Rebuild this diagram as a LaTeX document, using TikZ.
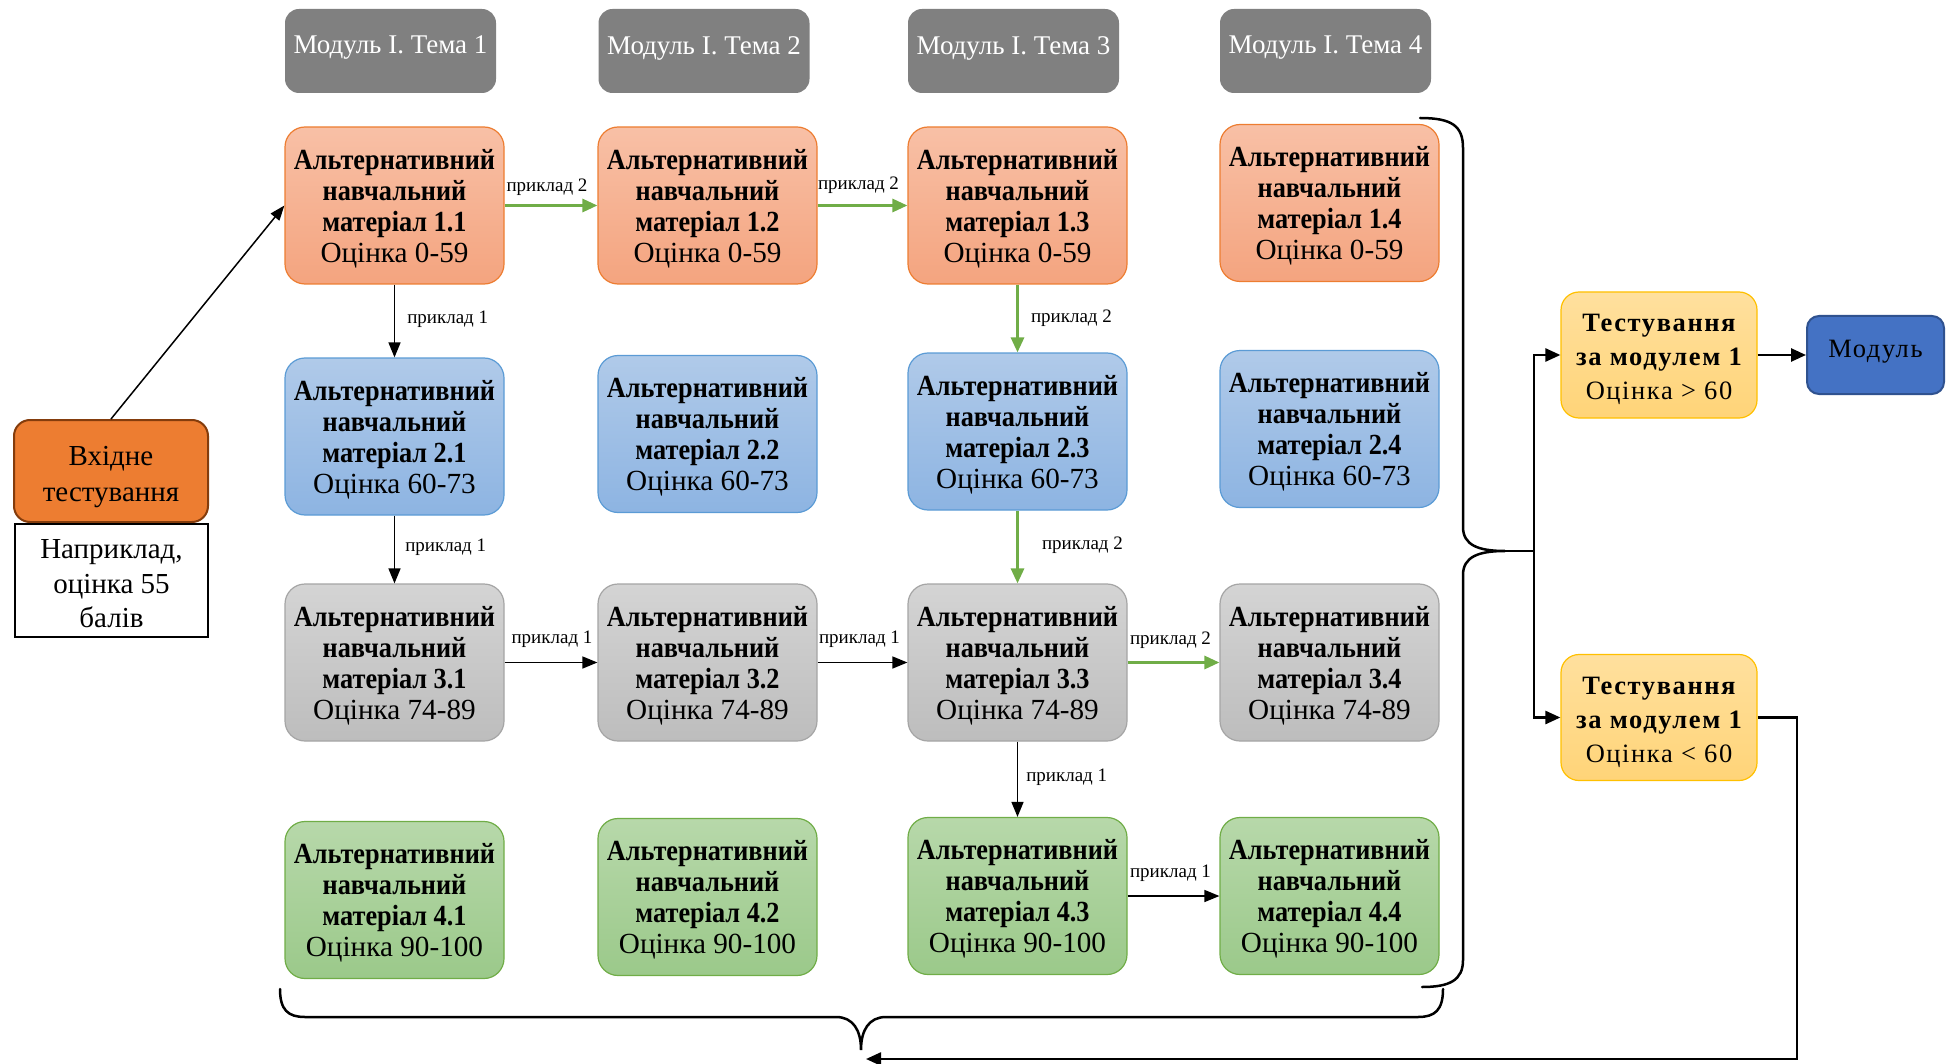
\documentclass[tikz,border=0pt]{standalone}
\usepackage{fontspec}
\setmainfont{Liberation Serif}
\newfontfamily\spfont[LetterSpace=6]{Liberation Serif}
\newfontfamily\condb[FakeStretch=0.9]{Liberation Serif}
\usetikzlibrary{arrows.meta}
\definecolor{hdrgray}{HTML}{808080}
\definecolor{ortop}{HTML}{F8C0A6}
\definecolor{orbot}{HTML}{F4A47F}
\definecolor{orbd}{HTML}{ED7D31}
\definecolor{bltop}{HTML}{B0CAE9}
\definecolor{blbot}{HTML}{8DB4E2}
\definecolor{blbd}{HTML}{5B9BD5}
\definecolor{grtop}{HTML}{D4D4D4}
\definecolor{grbot}{HTML}{BDBDBD}
\definecolor{grbd}{HTML}{A5A5A5}
\definecolor{gntop}{HTML}{B7D8AA}
\definecolor{gnbot}{HTML}{9BC98A}
\definecolor{gnbd}{HTML}{70AD47}
\definecolor{ytop}{HTML}{FFE09E}
\definecolor{ybot}{HTML}{FFD478}
\definecolor{ybd}{HTML}{FFC000}
\definecolor{vhfill}{HTML}{ED7D31}
\definecolor{vhbd}{HTML}{843C0C}
\definecolor{modfill}{HTML}{4472C4}
\definecolor{modbd}{HTML}{2F528F}
\definecolor{arrgreen}{HTML}{70AD47}
\newcommand\stk[2]{\raisebox{#1}[\height][\depth]{\begin{tabular}{@{}c@{}}#2\end{tabular}}}
\newcommand\shft[2]{\raisebox{#1}[\height][\depth]{#2}}
\newcommand\mattxt[2]{\stk{-4pt}{{\condb\bfseries Альтернативний}\\{\condb\bfseries навчальний}\\{\condb\bfseries матеріал #1}\\Оцінка #2}}
\newcommand\testtxt[1]{\stk{-4pt}{{\spfont\bfseries Тестування}\\{\spfont\bfseries за модулем 1}\\{\spfont Оцінка #1}}}
\begin{document}
\begin{tikzpicture}[x=1pt,y=-1pt,
  hdr/.style={fill=hdrgray, rounded corners=14pt, minimum width=211pt, minimum height=84pt, inner sep=0pt, text=white, font=\fontsize{27}{30}\selectfont},
  mat/.style={rounded corners=20pt, minimum width=219pt, minimum height=157pt, inner sep=0pt, align=center, font=\fontsize{29.2}{31}\selectfont, line width=1.2pt},
  omat/.style={mat, draw=orbd, top color=ortop, bottom color=orbot},
  bmat/.style={mat, draw=blbd, top color=bltop, bottom color=blbot},
  gmat/.style={mat, draw=grbd, top color=grtop, bottom color=grbot},
  nmat/.style={mat, draw=gnbd, top color=gntop, bottom color=gnbot},
  testbox/.style={rounded corners=18pt, draw=ybd, top color=ytop, bottom color=ybot, minimum width=196pt, minimum height=126pt, inner sep=0pt, align=center, font=\fontsize{26.5}{34}\selectfont, line width=1.2pt},
  modbox/.style={rounded corners=12pt, draw=modbd, fill=modfill, line width=2pt, minimum width=137pt, minimum height=78pt, inner sep=0pt, font=\spfont\fontsize{26.5}{30}\selectfont},
  lbl/.style={font=\fontsize{19}{21}\selectfont, inner sep=2pt, text=black},
  blk/.style={line width=1.5pt, -{Triangle[length=15pt,width=12pt]}},
  grn/.style={line width=3pt, draw=arrgreen, -{Triangle[length=15pt,width=13pt]}},
  thk/.style={line width=2.5pt},
  thkarr/.style={line width=2.5pt, -{Triangle[length=15pt,width=13pt]}},
  brace/.style={line width=2.5pt, line cap=round}
]
\useasboundingbox (0,0) rectangle (1950,1064);

% headers
\node[hdr] (h1) at (390.5,51) {\shft{3pt}{Модуль I. Тема 1}};
\node[hdr] (h2) at (704,51) {\shft{3pt}{Модуль I. Тема 2}};
\node[hdr] (h3) at (1013.5,51) {\shft{3pt}{Модуль I. Тема 3}};
\node[hdr] (h4) at (1325.5,51) {\shft{3pt}{Модуль I. Тема 4}};

% materials
\node[omat] (m11) at (394.5,205.5) {\mattxt{1.1}{0-59}};
\node[omat] (m12) at (707.5,205.5) {\mattxt{1.2}{0-59}};
\node[omat] (m13) at (1017.5,205.5) {\mattxt{1.3}{0-59}};
\node[omat] (m14) at (1329.5,203) {\mattxt{1.4}{0-59}};

\node[bmat] (m21) at (394.5,436.5) {\mattxt{2.1}{60-73}};
\node[bmat] (m22) at (707.5,434) {\mattxt{2.2}{60-73}};
\node[bmat] (m23) at (1017.5,431.5) {\mattxt{2.3}{60-73}};
\node[bmat] (m24) at (1329.5,429) {\mattxt{2.4}{60-73}};

\node[gmat] (m31) at (394.5,662.5) {\mattxt{3.1}{74-89}};
\node[gmat] (m32) at (707.5,662.5) {\mattxt{3.2}{74-89}};
\node[gmat] (m33) at (1017.5,662.5) {\mattxt{3.3}{74-89}};
\node[gmat] (m34) at (1329.5,662.5) {\mattxt{3.4}{74-89}};

\node[nmat] (m41) at (394.5,900) {\mattxt{4.1}{90-100}};
\node[nmat] (m42) at (707.5,897) {\mattxt{4.2}{90-100}};
\node[nmat] (m43) at (1017.5,896) {\mattxt{4.3}{90-100}};
\node[nmat] (m44) at (1329.5,896) {\mattxt{4.4}{90-100}};

% left boxes
\node[draw=vhbd, fill=vhfill, line width=2pt, rounded corners=16pt, minimum width=194pt, minimum height=102pt, inner sep=0pt, font=\fontsize{29}{36}\selectfont] (vh) at (111,471) {\stk{-5pt}{Вхідне\\тестування}};
\node[draw=black, fill=white, line width=2pt, minimum width=193pt, minimum height=113pt, inner sep=0pt, font=\fontsize{29}{34.5}\selectfont] (ex) at (111.5,580.5) {\stk{-6pt}{Наприклад,\\оцінка 55\\балів}};

% right boxes
\node[testbox] (t1) at (1659,355) {\testtxt{> 60}};
\node[testbox] (t2) at (1659,717.5) {\testtxt{< 60}};
\node[modbox] (md) at (1875.5,355) {\shft{3pt}{Модуль}};

% connectors
\draw[line width=1.5pt, -{Triangle[length=15pt,width=11pt]}] (vh.north) -- (m11.west);

\draw[grn] (m11) -- (m12) node[lbl, above, midway, xshift=-4pt, yshift=6pt] {приклад 2};
\draw[grn] (m12) -- (m13) node[lbl, above, midway, xshift=-4pt, yshift=8pt] {приклад 2};
\draw[blk] (m11) -- (m21) node[lbl, right, pos=0.48, xshift=10pt] {приклад 1};
\draw[grn] (m13) -- (m23) node[lbl, right, pos=0.5, xshift=10pt] {приклад 2};
\draw[blk] (m21) -- (m31) node[lbl, right, pos=0.47, xshift=8pt] {приклад 1};
\draw[grn] (m23) -- (m33) node[lbl, right, pos=0.48, xshift=21pt] {приклад 2};
\draw[blk] (m31) -- (m32) node[lbl, above, midway, xshift=1pt, yshift=12pt] {приклад 1};
\draw[blk] (m32) -- (m33) node[lbl, above, midway, xshift=-3pt, yshift=12pt] {приклад 1};
\draw[grn] (m33) -- (m34) node[lbl, above, midway, xshift=-3pt, yshift=10pt] {приклад 2};
\draw[blk] (m33) -- (m43) node[lbl, right, pos=0.48, xshift=6pt] {приклад 1};
\draw[blk] (m43) -- (m44) node[lbl, above, midway, xshift=-3pt, yshift=12pt] {приклад 1};

% right brace
\draw[brace] (1420,118) .. controls (1452,118) and (1463,126) .. (1463,148) -- (1463,527)
  .. controls (1463,545) and (1478,551) .. (1505,551)
  .. controls (1478,551) and (1463,557) .. (1463,575) -- (1463,960)
  .. controls (1463,980) and (1450,987) .. (1422,987);
\coordinate (bt) at (1505,551);
\coordinate (jn) at (1534,551);
\draw[thk] (bt) -- (jn);
\draw[thkarr] (jn) |- (t1.west);
\draw[thkarr] (jn) |- (t2.west);
\draw[thkarr] (t1.east) -- (md.west);

% bottom brace
\draw[brace] (280,989) .. controls (280,1010) and (288,1017) .. (305,1017) -- (836,1017)
  .. controls (853,1017) and (861,1030) .. (861,1050)
  .. controls (861,1030) and (869,1017) .. (886,1017) -- (1418,1017)
  .. controls (1435,1017) and (1443,1010) .. (1443,989);
\coordinate (fb) at (866,1059);
\draw[thkarr] (t2.east) -- (1797,717.5) |- (fb);
\end{tikzpicture}
\end{document}
